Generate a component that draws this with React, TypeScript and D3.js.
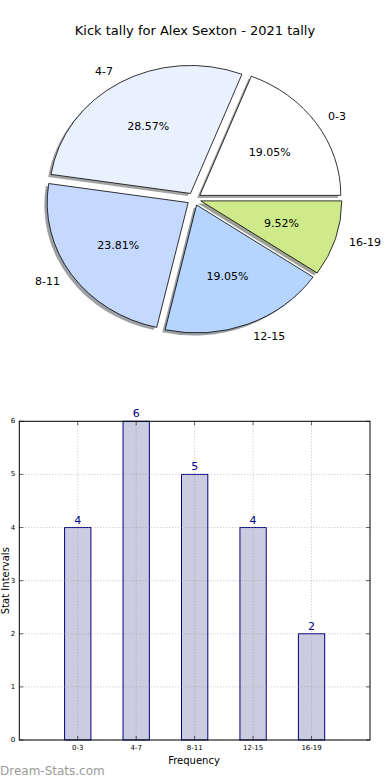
import React from "react";
import * as d3 from "d3";

const categories = ["0-3", "4-7", "8-11", "12-15", "16-19"];
const counts = [4, 6, 5, 4, 2];
const sliceColors = ["#ffffff", "#eaf1fe", "#c5d8fe", "#b5d5fe", "#cfea8a"];
const yTicks = [0, 1, 2, 3, 4, 5, 6];

const W = 390;
const H = 780;
const FONT = "DejaVu Sans, sans-serif";

// pie geometry (matplotlib without equal aspect -> ellipse)
const PIE = { cx: 194, cy: 199, rx: 141, ry: 128, explode: 0.05 };

// bar axes box
const BAR = { left: 19.3, right: 370, top: 421.3, bottom: 740 };
const BAR_WIDTH = 0.45;

const darken = (c: string) => {
  const rgb = d3.rgb(c);
  return d3.rgb(rgb.r * 0.3, rgb.g * 0.3, rgb.b * 0.3).toString();
};

const PieChart = () => {
  const total = d3.sum(counts);
  // matplotlib starts at 3 o'clock going counter-clockwise
  const arcs = d3
    .pie<number>()
    .sort(null)
    .startAngle(Math.PI / 2)
    .endAngle(Math.PI / 2 - 2 * Math.PI)(counts);
  const arc = d3.arc<any>().innerRadius(0).outerRadius(1);

  const centers = arcs.map((a) => {
    const mid = (a.startAngle + a.endAngle) / 2;
    const ux = Math.sin(mid);
    const uy = -Math.cos(mid);
    return {
      ux,
      uy,
      x: PIE.cx + PIE.explode * PIE.rx * ux,
      y: PIE.cy + PIE.explode * PIE.ry * uy,
    };
  });

  const shadowDx = -0.02 * PIE.rx;
  const shadowDy = 0.02 * PIE.ry;

  return (
    <g>
      <text x={195} y={35} textAnchor="middle" fontSize={13} fontFamily={FONT}>
        Kick tally for Alex Sexton - 2021 tally
      </text>
      {arcs.map((a, i) => (
        <path
          key={"s" + i}
          d={arc(a) || ""}
          transform={`translate(${centers[i].x + shadowDx},${centers[i].y + shadowDy}) scale(${PIE.rx},${PIE.ry})`}
          fill={darken(sliceColors[i])}
          fillOpacity={0.5}
        />
      ))}
      {arcs.map((a, i) => (
        <path
          key={"w" + i}
          d={arc(a) || ""}
          transform={`translate(${centers[i].x},${centers[i].y}) scale(${PIE.rx},${PIE.ry})`}
          fill={sliceColors[i]}
          stroke="#000"
          strokeWidth={0.8}
          vectorEffect="non-scaling-stroke"
        />
      ))}
      {arcs.map((a, i) => {
        const c = centers[i];
        const lx = c.x + 1.1 * PIE.rx * c.ux;
        const ly = c.y + 1.1 * PIE.ry * c.uy;
        return (
          <text
            key={"l" + i}
            x={lx}
            y={ly}
            textAnchor={c.ux < 0 ? "end" : "start"}
            dominantBaseline="central"
            fontSize={11}
            fontFamily={FONT}
          >
            {categories[i]}
          </text>
        );
      })}
      {arcs.map((a, i) => {
        const c = centers[i];
        const px = c.x + 0.6 * PIE.rx * c.ux;
        const py = c.y + 0.6 * PIE.ry * c.uy;
        return (
          <text
            key={"p" + i}
            x={px}
            y={py}
            textAnchor="middle"
            dominantBaseline="central"
            fontSize={11}
            fontFamily={FONT}
          >
            {((counts[i] / total) * 100).toFixed(2)}%
          </text>
        );
      })}
    </g>
  );
};

const BarChart = () => {
  const x = d3.scaleLinear().domain([-1, 5]).range([BAR.left, BAR.right]);
  const y = d3.scaleLinear().domain([0, 6]).range([BAR.bottom, BAR.top]);
  const bw = x(BAR_WIDTH) - x(0);

  return (
    <g>
      {counts.map((v, i) => (
        <rect
          key={"b" + i}
          x={x(i) - bw / 2}
          y={y(v)}
          width={bw}
          height={y(0) - y(v)}
          fill="#cccce0"
          stroke="#000080"
          strokeWidth={1}
        />
      ))}
      {/* grid on top, like the classic style */}
      {yTicks.map((t) => (
        <line
          key={"gy" + t}
          x1={BAR.left}
          x2={BAR.right}
          y1={y(t)}
          y2={y(t)}
          stroke="#999"
          strokeWidth={0.6}
          strokeDasharray="1,2"
        />
      ))}
      {categories.map((c, i) => (
        <line
          key={"gx" + c}
          x1={x(i)}
          x2={x(i)}
          y1={BAR.top}
          y2={BAR.bottom}
          stroke="#999"
          strokeWidth={0.6}
          strokeDasharray="1,2"
        />
      ))}
      <rect
        x={BAR.left}
        y={BAR.top}
        width={BAR.right - BAR.left}
        height={BAR.bottom - BAR.top}
        fill="none"
        stroke="#000"
        strokeWidth={1}
      />
      {yTicks.map((t) => (
        <g key={"ty" + t}>
          <line x1={BAR.left} x2={BAR.left + 4} y1={y(t)} y2={y(t)} stroke="#000" strokeWidth={0.6} />
          <line x1={BAR.right} x2={BAR.right - 4} y1={y(t)} y2={y(t)} stroke="#000" strokeWidth={0.6} />
          <text
            x={BAR.left - 4}
            y={y(t)}
            textAnchor="end"
            dominantBaseline="central"
            fontSize={7}
            fontFamily={FONT}
          >
            {t}
          </text>
        </g>
      ))}
      {categories.map((c, i) => (
        <g key={"tx" + c}>
          <line x1={x(i)} x2={x(i)} y1={BAR.bottom} y2={BAR.bottom - 4} stroke="#000" strokeWidth={0.6} />
          <line x1={x(i)} x2={x(i)} y1={BAR.top} y2={BAR.top + 4} stroke="#000" strokeWidth={0.6} />
          <text
            x={x(i)}
            y={BAR.bottom + 10}
            textAnchor="middle"
            fontSize={7}
            fontFamily={FONT}
          >
            {c}
          </text>
        </g>
      ))}
      {counts.map((v, i) => (
        <text
          key={"v" + i}
          x={x(i)}
          y={y(v) - 4}
          textAnchor="middle"
          fontSize={11}
          fontFamily={FONT}
          fill="#000080"
        >
          {v}
        </text>
      ))}
      <text x={194} y={764} textAnchor="middle" fontSize={10} fontFamily={FONT}>
        Frequency
      </text>
      <text
        transform={`translate(9,${(BAR.top + BAR.bottom) / 2}) rotate(-90)`}
        textAnchor="middle"
        fontSize={10}
        fontFamily={FONT}
      >
        Stat Intervals
      </text>
      <text x={0} y={775} fontSize={12} fontFamily={FONT} fill="#9a9a9a">
        Dream-Stats.com
      </text>
    </g>
  );
};

export default function App() {
  return (
    <svg
      width={W}
      height={H}
      style={{ position: "absolute", left: 0, top: 0, background: "#fff" }}
    >
      <PieChart />
      <BarChart />
    </svg>
  );
}
